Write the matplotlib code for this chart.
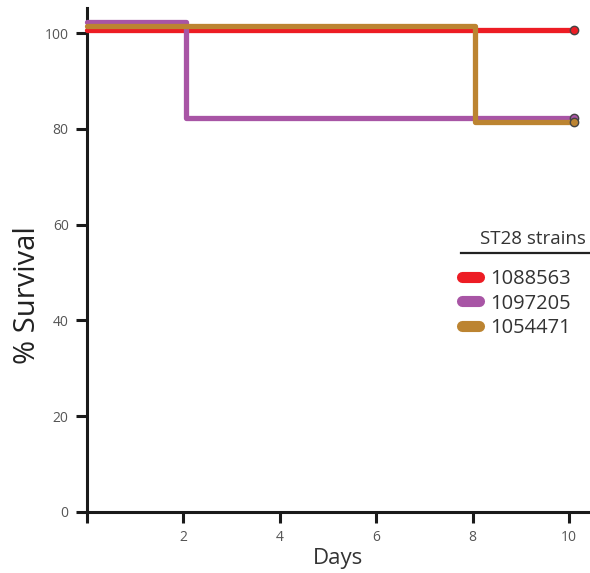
import matplotlib.pyplot as plt
from matplotlib.lines import Line2D

plt.rcParams['font.family'] = ['Open Sans', 'DejaVu Sans']

# survival data (step functions, slightly offset so lines stay visible)
strains = ['1088563', '1097205', '1054471']
colors = ['#ED1C24', '#A855A5', '#BC8431']
days = [[0, 10.1], [0, 2.05, 10.1], [0, 8.05, 10.1]]
survival = [[100.6, 100.6], [102.3, 82.3, 82.3], [101.5, 81.4, 81.4]]
xticks = [0, 2, 4, 6, 8, 10]
xticklabels = ['', '2', '4', '6', '8', '10']
yticks = [0, 20, 40, 60, 80, 100]

fig = plt.figure(figsize=(5.9, 5.73), dpi=100)
ax = fig.add_axes([0.147, 0.1065, 0.853, 0.879])

for d, s, c in zip(days, survival, colors):
    ax.step(d, s, where='post', color=c, lw=3.8, solid_joinstyle='round',
            solid_capstyle='round', clip_on=False, zorder=3)
    ax.plot(d[-1], s[-1], 'o', ms=6, mfc=c, mec='#444444', mew=1.0,
            clip_on=False, zorder=4)

ax.set_xlim(0, 10.43)
ax.set_ylim(0, 105.2)
ax.set_xticks(xticks)
ax.set_xticklabels(xticklabels)
ax.set_yticks(yticks)
for sp in ['top', 'right']:
    ax.spines[sp].set_visible(False)
for sp in ['left', 'bottom']:
    ax.spines[sp].set_linewidth(2.2)
    ax.spines[sp].set_color('#1a1a1a')
ax.tick_params(direction='out', length=8, width=2.2, color='#1a1a1a',
               labelsize=10, labelcolor='#555555', pad=5)

ax.set_xlabel('Days', fontsize=16, color='#333333', labelpad=2)
ax.set_ylabel('% Survival', fontsize=21, color='#222222')
ax.yaxis.set_label_coords(-0.088, 0.43)

# legend with underlined title
ax.text(0.992, 0.532, 'ST28 strains', transform=ax.transAxes, fontsize=13.5,
        color='#333333', ha='right', va='baseline')
ax.plot([0.744, 1.0], [0.514, 0.514], transform=ax.transAxes, color='#222222',
        lw=1.6, clip_on=False)
handles = [Line2D([], [], color=c, lw=8, solid_capstyle='round') for c in colors]
leg = ax.legend(handles, strains, loc='upper left', bbox_to_anchor=(0.745, 0.483),
                frameon=False, fontsize=14.5, handlelength=0.85, handletextpad=0.55,
                labelspacing=0.24, borderaxespad=0, borderpad=0)
for t in leg.get_texts():
    t.set_color('#333333')

fig.savefig('out.png', dpi=100)
